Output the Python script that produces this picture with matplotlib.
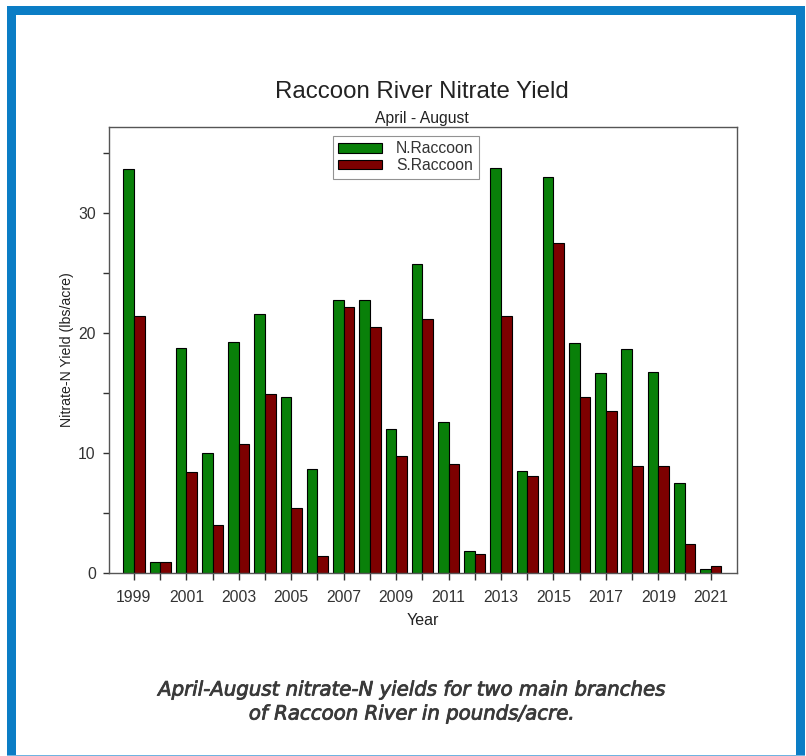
import matplotlib
matplotlib.use("Agg")
import matplotlib.pyplot as plt
import matplotlib.patheffects as pe
from matplotlib.patches import Rectangle
import numpy as np

years = list(range(1999, 2022))
n_raccoon = [33.7, 0.9, 18.8, 10.05, 19.25, 21.6, 14.7, 8.65, 22.8, 22.8, 12.0, 25.75,
             12.6, 1.85, 33.8, 8.5, 33.0, 19.2, 16.7, 18.7, 16.8, 7.5, 0.35]
s_raccoon = [21.4, 0.9, 8.45, 4.0, 10.8, 14.9, 5.45, 1.45, 22.2, 20.5, 9.8, 21.2,
             9.1, 1.6, 21.4, 8.1, 27.5, 14.7, 13.55, 8.9, 8.9, 2.4, 0.55]
series_names = ["N.Raccoon", "S.Raccoon"]

plt.rcParams['font.family'] = ['Liberation Sans', 'DejaVu Sans']

W, H = 806, 756
fig = plt.figure(figsize=(W / 100, H / 100), dpi=100)
fig.patch.set_facecolor("white")

# blue frame (pixel values converted to figure fractions)
blue = "#0b7dc5"
def px_rect(x0, y0, w, h):
    return Rectangle((x0 / W, 1 - (y0 + h) / H), w / W, h / H,
                     transform=fig.transFigure, facecolor=blue, edgecolor="none")
fig.add_artist(px_rect(7, 6, 798, 9))     # top
fig.add_artist(px_rect(7, 6, 9, 750))     # left
fig.add_artist(px_rect(796, 6, 9, 750))   # right
fig.add_artist(Rectangle((7 / W, 0), 798 / W, 1.5 / H, transform=fig.transFigure,
                         facecolor="#6fb3e0", edgecolor="none"))

ax = fig.add_axes([109 / W, 1 - 573 / H, 628 / W, 446 / H])

x = np.array(years)
w = 0.405
ax.bar(x - w / 2, n_raccoon, width=w, color="#098009", edgecolor="black",
       linewidth=0.8, label=series_names[0])
ax.bar(x + w / 2, s_raccoon, width=w, color="#7d0000", edgecolor="black",
       linewidth=0.8, label=series_names[1])

ax.set_xlim(1998.05, 2022.0)
ax.set_ylim(0, 37.2)

ax.set_xticks(years)
ax.set_xticklabels([str(y) if y % 2 == 1 else "" for y in years])
ax.set_yticks([0, 5, 10, 15, 20, 25, 30, 35])
ax.set_yticklabels(["0", "", "10", "", "20", "", "30", ""])
ax.tick_params(axis="both", direction="out", colors="#333333", labelsize=11.3,
               width=1.0)
ax.tick_params(axis="x", length=5, pad=7)
ax.tick_params(axis="y", length=4.5, pad=5)
for s in ax.spines.values():
    s.set_color("#555555")
    s.set_linewidth(1.0)

ax.set_xlabel("Year", fontsize=11.5, color="#222222", labelpad=6)
ax.set_ylabel("Nitrate-N Yield (lbs/acre)", fontsize=10.2, color="#222222", labelpad=3)

fig.text(422 / W, 1 - 92 / H, "Raccoon River Nitrate Yield", fontsize=17.3,
         ha="center", va="center", color="#222222")
fig.text(422 / W, 1 - 118 / H, "April - August", fontsize=11.3,
         ha="center", va="center", color="#222222")

leg = ax.legend(loc="upper left", bbox_to_anchor=(333 / W, 1 - 136 / H),
                bbox_transform=fig.transFigure, borderaxespad=0, fancybox=False,
                frameon=True, fontsize=11.3, handlelength=2.75, handleheight=0.55,
                handletextpad=0.9, labelspacing=0.1, borderpad=0.35)
leg.get_frame().set_edgecolor("#777777")
leg.get_frame().set_linewidth(0.8)
for t in leg.get_texts():
    t.set_color("#333333")

# caption under the chart, slightly heavier than regular weight
caption = ["April-August nitrate-N yields for two main branches",
           "of Raccoon River in pounds/acre."]
for i, line in enumerate(caption):
    fig.text(412 / W, 1 - (690 + 24 * i) / H, line,
             fontsize=14.2, ha="center", va="center", color="#3a3a3a",
             family=["DejaVu Sans"], style="oblique",
             path_effects=[pe.withStroke(linewidth=0.6, foreground="#3a3a3a")])

fig.savefig("out.png", dpi=100)
